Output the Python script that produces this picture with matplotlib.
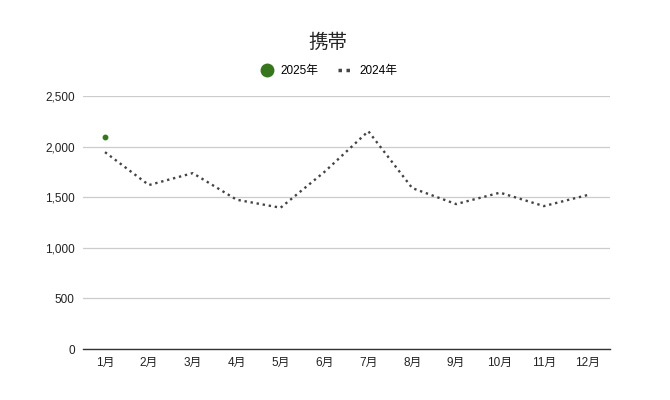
import numpy as np
import matplotlib
matplotlib.use("Agg")
import matplotlib.pyplot as plt

plt.rcParams['font.family'] = ['Liberation Sans', 'Noto Sans CJK JP', 'DejaVu Sans']

months = ["1月", "2月", "3月", "4月", "5月", "6月", "7月", "8月", "9月", "10月", "11月", "12月"]
sales_2024 = [1945, 1620, 1738, 1475, 1396, 1750, 2152, 1590, 1432, 1545, 1412, 1522]
sales_2025 = [2092]
y_ticks = [0, 500, 1000, 1500, 2000, 2500]

fig = plt.figure(figsize=(6.7, 4.0), dpi=100)
ax = fig.add_axes([0.124, 0.1275, 0.786, 0.6325])

x = np.arange(len(months))
ax.plot(x, sales_2024, color="#444444", linestyle=(0, (1, 1.6)), linewidth=1.7,
        label="2024年", zorder=3)
ax.plot(x[:len(sales_2025)], sales_2025, marker="o", markersize=3.2, linestyle="none",
        color="#38761d", label="2025年", zorder=4)

ax.set_xlim(-0.5, len(months) - 0.5)
ax.set_ylim(0, 2500)
ax.set_xticks(x)
ax.set_xticklabels(months)
ax.set_yticks(y_ticks)
ax.set_yticklabels([f"{v:,}" for v in y_ticks])
ax.tick_params(axis="both", length=0, labelsize=8.5, colors="#222222", pad=6)
ax.grid(axis="y", color="#cccccc", linewidth=0.9)
ax.set_axisbelow(True)
for s in ["top", "right", "left"]:
    ax.spines[s].set_visible(False)
ax.spines["bottom"].set_color("#333333")
ax.spines["bottom"].set_linewidth(1)

fig.text(0.49, 0.892, "携帯", ha="center", va="center", fontsize=14, color="#222222")

leg_handles = [
    plt.Line2D([], [], marker="o", markersize=9, linestyle="none", color="#38761d"),
    plt.Line2D([], [], color="#444444", linestyle=(0, (1, 1.3)), linewidth=2.5),
]
fig.legend(leg_handles, ["2025年", "2024年"], loc="center", bbox_to_anchor=(0.49, 0.822),
           ncol=2, frameon=False, fontsize=8.5, handlelength=1.2, columnspacing=1.6,
           handletextpad=0.6)

fig.savefig("out.png", dpi=100)
